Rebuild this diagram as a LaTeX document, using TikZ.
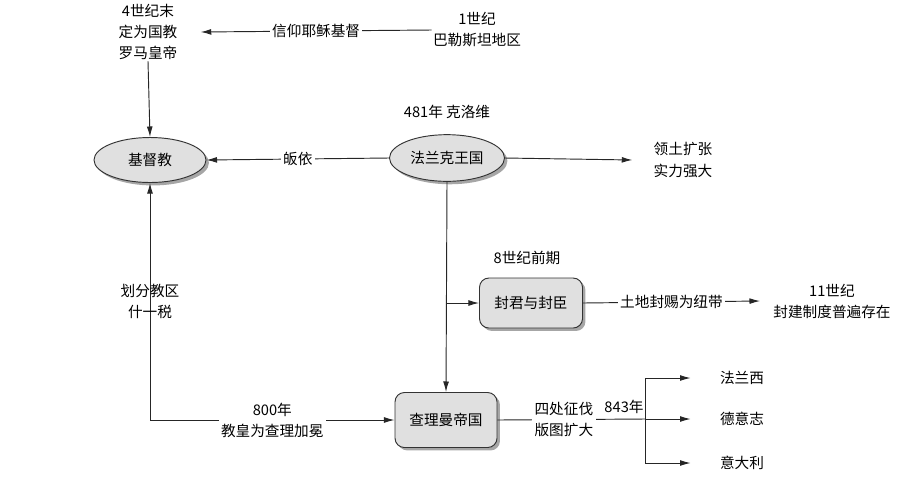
\documentclass[tikz,border=0pt]{standalone}
\usepackage{fontspec}
\setmainfont{Noto Sans CJK SC}
\usetikzlibrary{arrows.meta,shapes.geometric,shadows,calc}
\begin{document}
\begin{tikzpicture}[x=0.03cm,y=-0.03cm,
  font=\fontsize{12.5}{18}\selectfont,
  conn/.style={draw=black!85, line width=0.8pt, -{Latex[length=9pt,width=5pt]}},
  plain/.style={draw=black!85, line width=0.8pt},
  txt/.style={align=center, inner sep=1pt},
  lbl/.style={fill=white, inner sep=2pt, align=center},
  nlbl/.style={inner sep=2pt, align=center},
  shad/.style={drop shadow={shadow xshift=2.5pt, shadow yshift=-2.5pt, fill=black!35, opacity=1}},
  oval/.style={ellipse, draw=black!80, fill=black!12, line width=0.8pt, inner sep=0pt, shad},
  rbox/.style={rectangle, rounded corners=8pt, draw=black!80, fill=black!12, line width=0.8pt, inner sep=0pt, shad}]
\useasboundingbox (0,0) rectangle (900,490);

\node[txt] (rome) at (148,32) {4世纪末\\定为国教\\罗马皇帝};
\node[txt] (pal) at (477,30) {1世纪\\巴勒斯坦地区};
\node[oval, minimum width=3.36cm, minimum height=1.35cm] (chr) at (150,160) {基督教};
\node[oval, minimum width=3.45cm, minimum height=1.4cm] (frank) at (447,158) {法兰克王国};
\node[txt] (clovis) at (447,112) {481年 克洛维};
\node[txt] (terr) at (683,160) {领土扩张\\实力强大};
\node[rbox, minimum width=3.09cm, minimum height=1.5cm] (feud) at (531,303) {封君与封臣};
\node[txt] (c8) at (527,258) {8世纪前期};
\node[txt] (c11) at (832,301) {11世纪\\封建制度普遍存在};
\node[rbox, minimum width=3.06cm, minimum height=1.65cm] (charl) at (446,420) {查理曼帝国};
\node[txt] (fr) at (742,378) {法兰西};
\node[txt] (de) at (742,419) {德意志};
\node[txt] (it) at (742,463) {意大利};
\node[txt] (y843) at (624,407) {843年};
\coordinate (br) at (645,419);
\coordinate (fb) at (frank.south |- feud.west);
\coordinate (cor) at (chr.south |- charl.west);

\draw[conn] (pal.west) -- node[lbl]{信仰耶稣基督} ($(rome.east)+(22,0)$);
\draw[conn] (rome.south) -- (chr.north);
\draw[conn] (frank.west) -- node[lbl]{皈依} (chr.east);
\draw[conn] (frank.east) -- ($(terr.west)+(-20,0)$);
\draw[conn] (frank.south) -- (charl.north);
\draw[conn] (fb) -- (feud.west);
\draw[conn] (feud.east) -- node[lbl]{土地封赐为纽带} ($(c11.west)+(-12,0)$);
\draw[conn] (cor) -- node[lbl]{800年\\教皇为查理加冕} (charl.west);
\draw[conn] (cor) -- node[nlbl]{划分教区\\什一税} (chr.south);
\draw[plain] (charl.east) -- node[lbl, pos=0.45]{四处征伐\\版图扩大} (br);
\draw[plain] (br |- fr.west) -- (br |- it.west);
\draw[conn] (br |- fr.west) -- ($(fr.west)+(-28,0)$);
\draw[conn] (br) -- ($(de.west)+(-28,0)$);
\draw[conn] (br |- it.west) -- ($(it.west)+(-28,0)$);
\end{tikzpicture}
\end{document}
